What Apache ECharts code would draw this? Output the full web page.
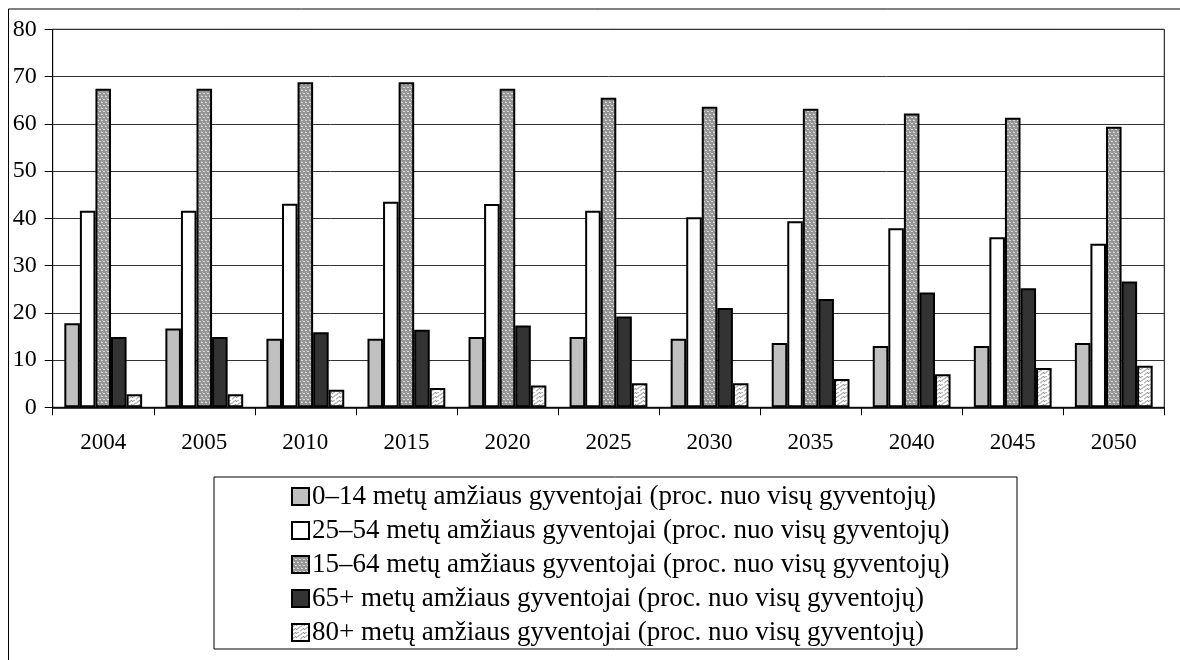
<!DOCTYPE html>
<html>
<head>
<meta charset="utf-8">
<script src="https://cdn.jsdelivr.net/npm/echarts@6/dist/echarts.min.js"></script>
<style>
html,body{margin:0;padding:0;background:#fff;}
#chart{width:1180px;height:660px;}
</style>
</head>
<body>
<div id="chart"></div>
<script>
const categories = ['2004','2005','2010','2015','2020','2025','2030','2035','2040','2045','2050'];
const seriesNames = [
  '0–14 metų amžiaus gyventojai (proc. nuo visų gyventojų)',
  '25–54 metų amžiaus gyventojai (proc. nuo visų gyventojų)',
  '15–64 metų amžiaus gyventojai (proc. nuo visų gyventojų)',
  '65+ metų amžiaus gyventojai (proc. nuo visų gyventojų)',
  '80+ metų amžiaus gyventojai (proc. nuo visų gyventojų)'
];
const age0_14  = [17.8, 16.7, 14.5, 14.5, 14.9, 14.9, 14.5, 13.6, 13.0, 13.0, 13.6];
const age25_54 = [41.6, 41.6, 43.1, 43.5, 43.0, 41.6, 40.2, 39.4, 37.9, 36.0, 34.6];
const age15_64 = [67.4, 67.4, 68.8, 68.8, 67.4, 65.5, 63.6, 63.2, 62.2, 61.3, 59.4];
const age65    = [14.9, 14.9, 15.9, 16.4, 17.3, 19.2, 21.0, 22.9, 24.3, 25.2, 26.6];
const age80    = [2.75, 2.75, 3.7, 4.1, 4.6, 5.1, 5.1, 6.0, 7.0, 8.3, 8.8];
const yTicks = [0, 10, 20, 30, 40, 50, 60, 70, 80];

function dotPattern() {
  const c = document.createElement('canvas');
  c.width = 4; c.height = 6;
  const g = c.getContext('2d');
  g.fillStyle = '#949494'; g.fillRect(0, 0, 4, 6);
  g.fillStyle = '#dcdcdc';
  g.fillRect(1, 0, 2, 1);
  g.fillRect(0, 3, 1, 1);
  g.fillRect(3, 3, 1, 1);
  g.fillStyle = '#b8b8b8';
  g.fillRect(2, 2, 1, 1);
  g.fillRect(1, 5, 1, 1);
  return c;
}
function wavePattern() {
  const c = document.createElement('canvas');
  c.width = 8; c.height = 8;
  const g = c.getContext('2d');
  g.fillStyle = '#ffffff'; g.fillRect(0, 0, 8, 8);
  g.strokeStyle = '#7a7a7a'; g.lineWidth = 1;
  g.beginPath();
  g.moveTo(0, 7.5); g.lineTo(3, 4.5); g.lineTo(5, 5.5); g.lineTo(8, 2.5);
  g.stroke();
  g.beginPath();
  g.moveTo(0, 3.5); g.lineTo(3, 0.5); g.lineTo(5, 1.5); g.lineTo(8, -1.5);
  g.stroke();
  return c;
}

const fills = [
  '#c0c0c0',
  '#ffffff',
  { image: dotPattern(), repeat: 'repeat' },
  '#333333',
  { image: wavePattern(), repeat: 'repeat' }
];
const dataSets = [age0_14, age25_54, age15_64, age65, age80];
const font = 'Liberation Serif';

const chart = echarts.init(document.getElementById('chart'), null, { renderer: 'canvas' });
chart.setOption({
  animation: false,
  backgroundColor: '#ffffff',
  grid: {
    left: 52.7, right: 15.7, top: 29.3, bottom: 252.7,
    show: true, borderColor: '#000', borderWidth: 1, backgroundColor: 'transparent'
  },
  xAxis: {
    type: 'category',
    data: categories,
    axisLine: { lineStyle: { color: '#000', width: 1.5 } },
    axisTick: { show: true, length: 8, lineStyle: { color: '#000', width: 1 } },
    axisLabel: { color: '#000', fontFamily: font, fontSize: 23, margin: 24 }
  },
  yAxis: {
    type: 'value',
    min: yTicks[0], max: yTicks[yTicks.length - 1], interval: 10,
    axisLine: { show: true, lineStyle: { color: '#000', width: 1 } },
    axisTick: { show: true, length: 8, lineStyle: { color: '#000' } },
    axisLabel: { color: '#000', fontFamily: font, fontSize: 24, margin: 16 },
    splitLine: { show: true, lineStyle: { color: '#333', width: 1 } }
  },
  legend: {
    orient: 'vertical',
    left: 291, top: 483,
    itemWidth: 17, itemHeight: 17, itemGap: 7,
    padding: 0,
    icon: 'rect',
    textStyle: { color: '#000', fontFamily: font, fontSize: 27, lineHeight: 26, padding: [0, 0, 0, -2] },
    data: seriesNames
  },
  graphic: [
    { type: 'rect', shape: { x: 8.5, y: 9, width: 1250, height: 700 }, style: { fill: 'none', stroke: '#000', lineWidth: 1 }, silent: true },
    { type: 'rect', shape: { x: 214, y: 477, width: 803, height: 172 }, style: { fill: 'none', stroke: '#000', lineWidth: 1 }, silent: true }
  ],
  series: seriesNames.map((name, i) => ({
    name: name,
    type: 'bar',
    data: dataSets[i],
    barGap: '0%',
    barCategoryGap: '23%',
    itemStyle: { color: fills[i], borderColor: '#000', borderWidth: 2 }
  }))
});
</script>
</body>
</html>
